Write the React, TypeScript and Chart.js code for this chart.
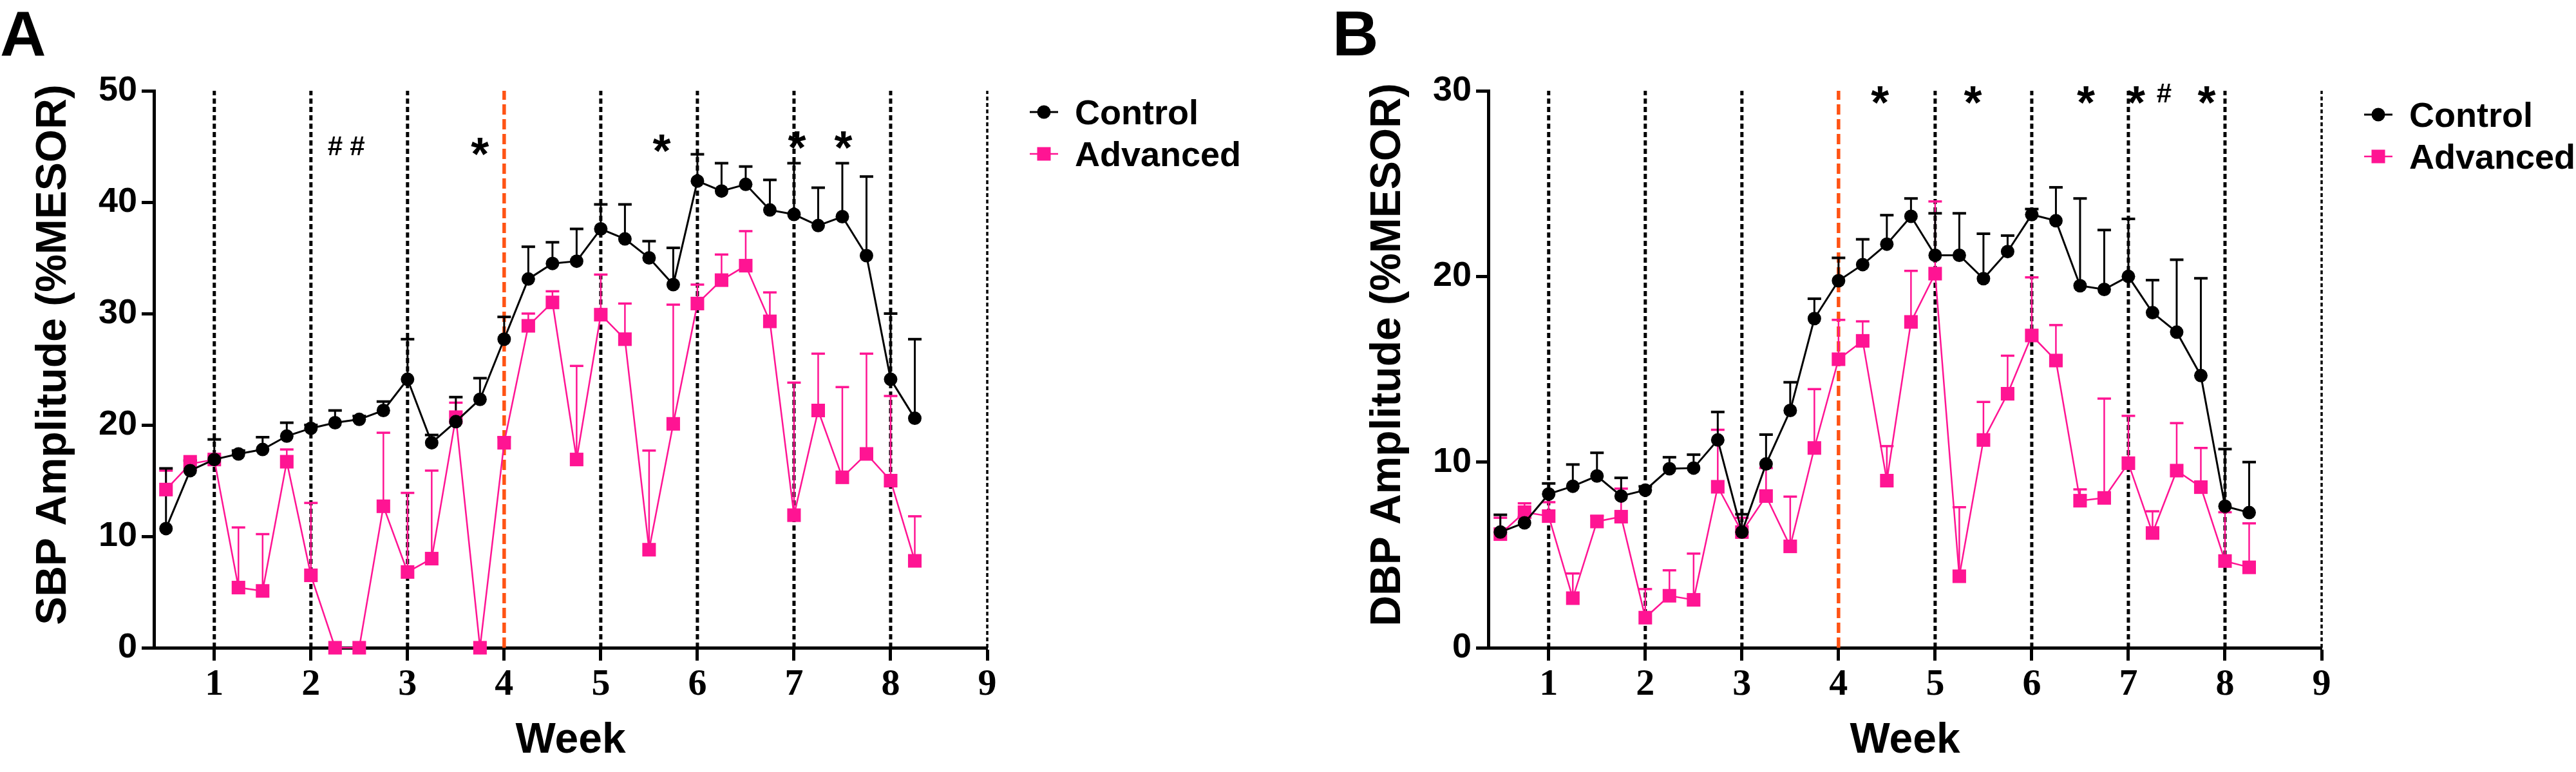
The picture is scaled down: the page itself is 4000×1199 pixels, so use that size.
import React, { useEffect, useRef } from "react";
import { Chart, registerables } from "chart.js";

Chart.register(...registerables);

// ---------- data ----------
const weeks = [0.5, 0.75, 1, 1.25, 1.5, 1.75, 2, 2.25, 2.5, 2.75, 3, 3.25, 3.5, 3.75, 4, 4.25, 4.5, 4.75, 5, 5.25, 5.5, 5.75, 6, 6.25, 6.5, 6.75, 7, 7.25, 7.5, 7.75, 8, 8.25];

const sbpControl = [10.7, 15.9, 16.9, 17.4, 17.8, 19.0, 19.7, 20.2, 20.5, 21.3, 24.1, 18.4, 20.3, 22.3, 27.7, 33.1, 34.5, 34.7, 37.6, 36.7, 35.0, 32.6, 41.9, 41.0, 41.6, 39.3, 38.9, 37.9, 38.7, 35.2, 24.1, 20.6];
const sbpControlErr = [5.4, 0.9, 1.8, 0.3, 1.1, 1.2, 0.3, 1.1, 0.3, 0.8, 3.6, 0.7, 2.2, 1.9, 2.0, 2.9, 1.9, 2.9, 2.2, 3.1, 1.5, 3.3, 2.4, 2.5, 1.6, 2.7, 4.6, 3.4, 4.8, 7.1, 5.9, 7.1];
const sbpAdvanced = [14.2, 16.5, 16.9, 5.4, 5.1, 16.7, 6.5, 0, 0, 12.7, 6.8, 8.0, 20.7, 0, 18.4, 28.9, 31.0, 16.9, 29.9, 27.7, 8.8, 20.1, 30.9, 33.0, 34.3, 29.3, 11.9, 21.3, 15.3, 17.4, 15.0, 7.8];
const sbpAdvancedErr = [1.7, 0.7, 0.3, 5.4, 5.1, 1.1, 6.5, 0, 0, 6.6, 7.1, 7.9, 1.3, 0, 0.5, 1.1, 1.0, 8.4, 3.6, 3.2, 8.9, 10.7, 1.7, 2.3, 3.1, 2.6, 11.9, 5.1, 8.1, 9.0, 7.6, 4.0];

const dbpControl = [6.23, 6.73, 8.28, 8.7, 9.25, 8.17, 8.49, 9.64, 9.68, 11.19, 6.23, 9.9, 12.78, 17.73, 19.77, 20.64, 21.74, 23.24, 21.14, 21.14, 19.88, 21.34, 23.33, 23.0, 19.5, 19.3, 20.0, 18.05, 17.0, 14.66, 7.62, 7.28];
const dbpControlErr = [0.93, 0.3, 0.57, 1.17, 1.25, 0.98, 0.2, 0.62, 0.72, 1.51, 0.96, 1.58, 1.52, 1.07, 1.23, 1.36, 1.56, 0.96, 2.26, 2.26, 2.42, 0.86, 0.3, 1.8, 4.7, 3.2, 3.1, 1.75, 3.9, 5.24, 3.08, 2.72];
const dbpAdvanced = [6.12, 7.3, 7.09, 2.67, 6.8, 7.06, 1.62, 2.8, 2.58, 8.67, 6.23, 8.17, 5.46, 10.76, 15.54, 16.53, 9.0, 17.55, 20.15, 3.85, 11.19, 13.68, 16.82, 15.47, 7.92, 8.07, 9.94, 6.18, 9.54, 8.65, 4.67, 4.33];
const dbpAdvancedErr = [0.88, 0.48, 0.75, 1.33, 0.3, 1.51, 1.54, 1.37, 2.49, 3.07, 0.77, 1.51, 2.68, 3.17, 2.12, 1.05, 1.86, 2.75, 3.89, 3.72, 2.05, 2.05, 3.13, 1.91, 0.61, 5.35, 2.55, 1.17, 2.56, 2.11, 2.63, 2.37];

const seriesLabels = ["Control", "Advanced"];
const xTickValues = [1, 2, 3, 4, 5, 6, 7, 8, 9];
const weekLines = [1, 2, 3, 4, 5, 6, 7, 8, 9];
const interventionWeek = 4;
const sbpTicks = [0, 10, 20, 30, 40, 50];
const dbpTicks = [0, 10, 20, 30];

const sbpMarkWeeks = [2.25, 2.48, 3.75, 5.63, 7.03, 7.51];
const sbpMarkText = ["#", "#", "*", "*", "*", "*"];
const sbpMarkLevel = [45.1, 45.1, 45.2, 45.5, 45.8, 45.8];

const dbpMarkWeeks = [4.43, 5.39, 6.56, 7.08, 7.37, 7.81];
const dbpMarkText = ["*", "*", "*", "*", "#", "*"];
const dbpMarkLevel = [29.9, 29.9, 29.9, 29.9, 29.9, 29.9];

// ---------- styles ----------
const BLACK = "#000000";
const PINK = "#FF1493";
const ORANGE = "#FF5314";
const SANS = '"Liberation Sans", Arial, Helvetica, sans-serif';
const SERIF = '"Liberation Serif", "Times New Roman", serif';
const H = 1199;

type PanelCfg = {
  letter: string;
  letterX: number;
  yTitle: string;
  yMax: number;
  yTicks: number[];
  values: number[][];
  errors: number[][];
  markWeeks: number[];
  markText: string[];
  markLevel: number[];
  legendY: number[];
  width: number;
  left: number;
};

const panels: PanelCfg[] = [
  {
    letter: "A",
    letterX: 0,
    yTitle: "SBP Amplitude (%MESOR)",
    yMax: 50,
    yTicks: sbpTicks,
    values: [sbpControl, sbpAdvanced],
    errors: [sbpControlErr, sbpAdvancedErr],
    markWeeks: sbpMarkWeeks,
    markText: sbpMarkText,
    markLevel: sbpMarkLevel,
    legendY: [174, 239],
    width: 2072,
    left: 0,
  },
  {
    letter: "B",
    letterX: -3,
    yTitle: "DBP Amplitude (%MESOR)",
    yMax: 30,
    yTicks: dbpTicks,
    values: [dbpControl, dbpAdvanced],
    errors: [dbpControlErr, dbpAdvancedErr],
    markWeeks: dbpMarkWeeks,
    markText: dbpMarkText,
    markLevel: dbpMarkLevel,
    legendY: [178, 243],
    width: 1928,
    left: 2072,
  },
];

const colors = [BLACK, PINK];
const lineWidths = [3, 2.5];

function makeOverlay(cfg: PanelCfg) {
  return {
    id: "overlay" + cfg.letter,
    beforeDatasetsDraw(chart: any) {
      const { ctx } = chart;
      const x = chart.scales.x;
      const y = chart.scales.y;
      ctx.save();
      // week reference lines
      weekLines.forEach((w) => {
        const px = x.getPixelForValue(w);
        const inter = w === interventionWeek;
        ctx.beginPath();
        ctx.strokeStyle = inter ? ORANGE : BLACK;
        ctx.lineWidth = inter ? 5.5 : w === 9 ? 3.5 : 5;
        ctx.setLineDash(inter ? [16, 7] : w === 9 ? [6, 4] : [8, 5]);
        ctx.moveTo(px, y.getPixelForValue(0));
        ctx.lineTo(px, y.getPixelForValue(cfg.yMax));
        ctx.stroke();
      });
      ctx.setLineDash([]);
      // error bars (upper only), pink first then black
      for (let d = cfg.values.length - 1; d >= 0; d--) {
        const vals = cfg.values[d];
        const errs = cfg.errors[d];
        ctx.strokeStyle = colors[d];
        weeks.forEach((w, i) => {
          const e = errs[i];
          if (!e) return;
          const px = x.getPixelForValue(w);
          const p0 = y.getPixelForValue(vals[i]);
          const p1 = y.getPixelForValue(vals[i] + e);
          ctx.beginPath();
          ctx.lineWidth = d === 0 ? 3 : 2.5;
          ctx.moveTo(px, p0);
          ctx.lineTo(px, p1);
          ctx.stroke();
          ctx.beginPath();
          ctx.lineWidth = d === 0 ? 4 : 3.5;
          ctx.moveTo(px - 10.5, p1);
          ctx.lineTo(px + 10.5, p1);
          ctx.stroke();
        });
      }
      ctx.restore();
    },
    afterDraw(chart: any) {
      const { ctx } = chart;
      const x = chart.scales.x;
      const y = chart.scales.y;
      ctx.save();
      ctx.fillStyle = BLACK;
      // significance marks
      ctx.textAlign = "center";
      ctx.textBaseline = "alphabetic";
      cfg.markWeeks.forEach((w, i) => {
        const px = x.getPixelForValue(w);
        const py = y.getPixelForValue(cfg.markLevel[i]);
        if (cfg.markText[i] === "*") {
          ctx.font = `bold 72px ${SANS}`;
          ctx.fillText("*", px, py + 40);
        } else {
          ctx.font = `bold 42px ${SANS}`;
          ctx.fillText(cfg.markText[i], px, py + 15);
        }
      });
      // legend
      const lx = 1621;
      const tx = 1669;
      chart.data.datasets.forEach((ds: any, d: number) => {
        const ly = cfg.legendY[d];
        ctx.beginPath();
        ctx.strokeStyle = ds.borderColor;
        ctx.lineWidth = d === 0 ? 3 : 2.5;
        ctx.moveTo(lx - 22, ly);
        ctx.lineTo(lx + 22, ly);
        ctx.stroke();
        ctx.fillStyle = ds.backgroundColor;
        if (ds.pointStyle === "circle") {
          ctx.beginPath();
          ctx.arc(lx, ly, 10.5, 0, Math.PI * 2);
          ctx.fill();
        } else {
          ctx.fillRect(lx - 10.5, ly - 10.5, 21, 21);
        }
        ctx.fillStyle = BLACK;
        ctx.font = `bold 54px ${SANS}`;
        ctx.textAlign = "left";
        ctx.fillText(ds.label, tx, ly + 19);
      });
      // y axis title
      ctx.save();
      ctx.translate(102, 551);
      ctx.rotate(-Math.PI / 2);
      ctx.textAlign = "center";
      ctx.font = `bold 66px ${SANS}`;
      ctx.fillText(cfg.yTitle, 0, 0);
      ctx.restore();
      // panel letter
      ctx.textAlign = "left";
      ctx.font = `bold 99px ${SANS}`;
      ctx.fillText(cfg.letter, cfg.letterX, 86);
      ctx.restore();
    },
  };
}

function buildConfig(cfg: PanelCfg): any {
  const datasets = cfg.values.map((vals, d) => ({
    label: seriesLabels[d],
    data: weeks.map((w, i) => ({ x: w, y: vals[i] })),
    borderColor: colors[d],
    backgroundColor: colors[d],
    borderWidth: lineWidths[d],
    pointStyle: d === 0 ? "circle" : "rect",
    pointRadius: d === 0 ? 10.5 : 14.9,
    pointBorderWidth: 0,
    pointHoverRadius: 0,
    tension: 0,
    clip: false,
    fill: false,
  }));
  return {
    type: "line",
    data: { datasets },
    options: {
      responsive: false,
      maintainAspectRatio: false,
      animation: false,
      devicePixelRatio: 1,
      events: [],
      layout: { padding: { top: 141, left: 0, right: cfg.width - 1533, bottom: 0 } },
      plugins: { legend: { display: false }, tooltip: { enabled: false }, title: { display: false } },
      scales: {
        x: {
          type: "linear",
          min: 0.375,
          max: 9,
          afterBuildTicks: (s: any) => {
            s.ticks = xTickValues.map((v) => ({ value: v }));
          },
          afterFit: (s: any) => {
            s.height = H - 1006;
          },
          ticks: {
            autoSkip: false,
            maxRotation: 0,
            padding: 3,
            color: BLACK,
            font: { family: SERIF, weight: "bold", size: 58 },
            callback: (v: any) => String(v),
          },
          grid: { drawOnChartArea: false, drawTicks: true, tickLength: 20, tickWidth: 5, tickColor: BLACK },
          border: { display: true, width: 5, color: BLACK },
          title: {
            display: true,
            text: "Week",
            color: BLACK,
            font: { family: SANS, weight: "bold", size: 66 },
            padding: { top: 0, bottom: 9 },
          },
        },
        y: {
          type: "linear",
          min: 0,
          max: cfg.yMax,
          afterBuildTicks: (s: any) => {
            s.ticks = cfg.yTicks.map((v) => ({ value: v }));
          },
          afterFit: (s: any) => {
            s.width = 239;
          },
          ticks: {
            padding: 7,
            color: BLACK,
            font: { family: SANS, weight: "bold", size: 54 },
            callback: (v: any) => String(v),
          },
          grid: { drawOnChartArea: false, drawTicks: true, tickLength: 19, tickWidth: 5, tickColor: BLACK },
          border: { display: true, width: 5, color: BLACK },
        },
      },
    },
    plugins: [makeOverlay(cfg)],
  };
}

function Panel({ cfg }: { cfg: PanelCfg }) {
  const ref = useRef<HTMLCanvasElement>(null);
  useEffect(() => {
    const chart = new Chart(ref.current as HTMLCanvasElement, buildConfig(cfg));
    return () => chart.destroy();
  }, [cfg]);
  return (
    <canvas
      ref={ref}
      width={cfg.width}
      height={H}
      style={{ position: "absolute", left: cfg.left, top: 0, width: cfg.width, height: H }}
    />
  );
}

export default function App() {
  return (
    <div
      style={{
        position: "fixed",
        left: 0,
        top: 0,
        width: 4000,
        height: H,
        background: "#ffffff",
        overflow: "hidden",
      }}
    >
      {panels.map((p) => (
        <Panel key={p.letter} cfg={p} />
      ))}
    </div>
  );
}
